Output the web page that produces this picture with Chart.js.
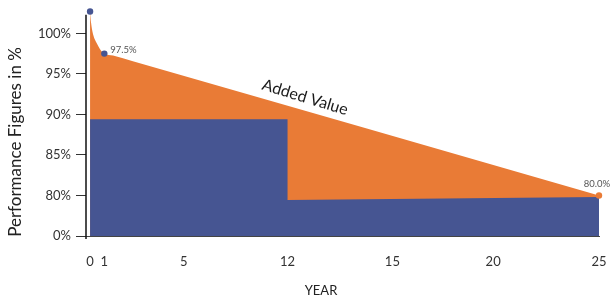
<!DOCTYPE html>
<html>
<head>
<meta charset="utf-8">
<script src="https://cdn.jsdelivr.net/npm/chart.js@4"></script>
<style>
  html, body { margin: 0; background: #fff; }
  canvas { display: block; }
</style>
</head>
<body>
<canvas id="perfChart" width="613" height="303"></canvas>
<script>
// x axis of the original is not linear: each year tick sits at its own axis position
const yearTicks  = [0, 1, 5, 12, 15, 20, 25];
const yearTickAt = [0, 0.7, 4.6, 9.7, 14.85, 19.8, 25];

// broken y axis: lowest tick stands for 0%
const yTickVals   = [75, 80, 85, 90, 95, 100];
const yTickLabels = ["0%", "80%", "85%", "90%", "95%", "100%"];

// orange – performance incl. added value
const addedYears  = [0, 0.07, 0.23, 0.46, 0.7, 1, 1.44, 2.44, 25];
const addedValues = [102.7, 101.3, 99.75, 98.8, 98.05, 97.5, 97.25, 96.55, 80];

// blue – guaranteed performance (step at year 12)
const baseYears  = [0, 12, 12, 25];
const baseValues = [89.4, 89.4, 79.45, 79.8];

// markers
const markYears  = [0, 1, 25];
const markValues = [102.7, 97.5, 80];

const ORANGE = "#e97b36";
const BLUE   = "#465592";

// map a year onto the (piecewise) axis position
function toPos(year) {
  for (let i = 0; i < yearTicks.length - 1; i++) {
    const a = yearTicks[i], b = yearTicks[i+1];
    if (year >= a && year <= b) {
      const t = (year - a) / (b - a);
      return yearTickAt[i] + t * (yearTickAt[i+1] - yearTickAt[i]);
    }
  }
  return yearTickAt[yearTickAt.length - 1];
}
const pts = (xs, ys) => xs.map((x, i) => ({ x: toPos(x), y: ys[i] }));

const FONT = "Lato";

// y axis line only runs up to ~102%
const axisLine = {
  id: "axisLine",
  afterDatasetsDraw(chart) {
    const { ctx, chartArea, scales: { y } } = chart;
    ctx.save();
    ctx.strokeStyle = "#111";
    ctx.lineWidth = 1.5;
    ctx.beginPath();
    ctx.moveTo(chartArea.left, y.getPixelForValue(102.3));
    ctx.lineTo(chartArea.left, chartArea.bottom + 3);
    ctx.stroke();
    ctx.restore();
  }
};

const textPlugin = {
  id: "texts",
  afterDraw(chart) {
    const { ctx, scales: { x, y } } = chart;
    ctx.save();
    ctx.fillStyle = "#222";
    ctx.textAlign = "center";
    ctx.textBaseline = "middle";

    // y title
    ctx.save();
    ctx.translate(16, 142);
    ctx.rotate(-Math.PI / 2);
    ctx.font = `17px ${FONT}`;
    ctx.fillText("Performance Figures in %", 0, 0);
    ctx.restore();

    // x title
    ctx.font = `13px ${FONT}`;
    ctx.fillText("YEAR", 321, 291);

    // "Added Value" along the slope
    ctx.save();
    ctx.translate(x.getPixelForValue(toPos(12.5)), y.getPixelForValue(92.1));
    ctx.rotate(17 * Math.PI / 180);
    ctx.font = `16px ${FONT}`;
    ctx.fillStyle = "#1a1a1a";
    ctx.fillText("Added Value", 0, 0);
    ctx.restore();

    // point labels
    ctx.font = `9.5px ${FONT}`;
    ctx.fillStyle = "#555";
    const p1x = x.getPixelForValue(toPos(markYears[1])), p1y = y.getPixelForValue(markValues[1]);
    ctx.textAlign = "left";
    ctx.fillText(markValues[1].toFixed(1) + "%", p1x + 6, p1y - 4);
    const p2x = x.getPixelForValue(toPos(markYears[2])), p2y = y.getPixelForValue(markValues[2]);
    ctx.textAlign = "center";
    ctx.fillText(markValues[2].toFixed(1) + "%", p2x - 2, p2y - 12);
    ctx.restore();
  }
};

new Chart(document.getElementById("perfChart"), {
  type: "line",
  data: {
    datasets: [
      {
        label: "markers",
        data: pts(markYears, markValues),
        showLine: false,
        pointRadius: 3.2,
        pointBorderWidth: 0,
        pointBackgroundColor: [BLUE, BLUE, ORANGE],
        clip: false
      },
      {
        label: "base",
        data: pts(baseYears, baseValues),
        borderWidth: 0,
        pointRadius: 0,
        backgroundColor: BLUE,
        fill: "origin"
      },
      {
        label: "added",
        data: pts(addedYears, addedValues),
        borderWidth: 0,
        pointRadius: 0,
        cubicInterpolationMode: "monotone",
        backgroundColor: ORANGE,
        fill: "origin"
      }
    ]
  },
  options: {
    responsive: false,
    animation: false,
    devicePixelRatio: 1,
    layout: { padding: { top: 9, right: 14, left: 0, bottom: 0 } },
    plugins: { legend: { display: false }, tooltip: { enabled: false } },
    scales: {
      x: {
        type: "linear",
        min: -0.2,
        max: 25,
        afterBuildTicks: s => { s.ticks = yearTickAt.map(v => ({ value: v })); },
        afterFit: s => { s.height = 67; s.paddingLeft = 0; s.paddingRight = 0; },
        grid: { display: false, drawTicks: false },
        border: { color: "#444", width: 1 },
        ticks: {
          autoSkip: false,
          maxRotation: 0,
          padding: 18,
          color: "#333",
          font: { family: FONT, size: 13 },
          callback: (v, i) => yearTicks[i]
        }
      },
      y: {
        min: 75,
        max: 103,
        afterBuildTicks: s => { s.ticks = yTickVals.map(v => ({ value: v })); },
        afterFit: s => { s.width = 86; s.paddingTop = 0; s.paddingBottom = 0; },
        grid: { drawOnChartArea: false, tickLength: 10, color: "#333" },
        border: { display: false },
        ticks: {
          padding: 5,
          color: "#333",
          font: { family: FONT, size: 13 },
          callback: (v, i) => yTickLabels[i]
        }
      }
    }
  },
  plugins: [axisLine, textPlugin]
});
</script>
</body>
</html>
